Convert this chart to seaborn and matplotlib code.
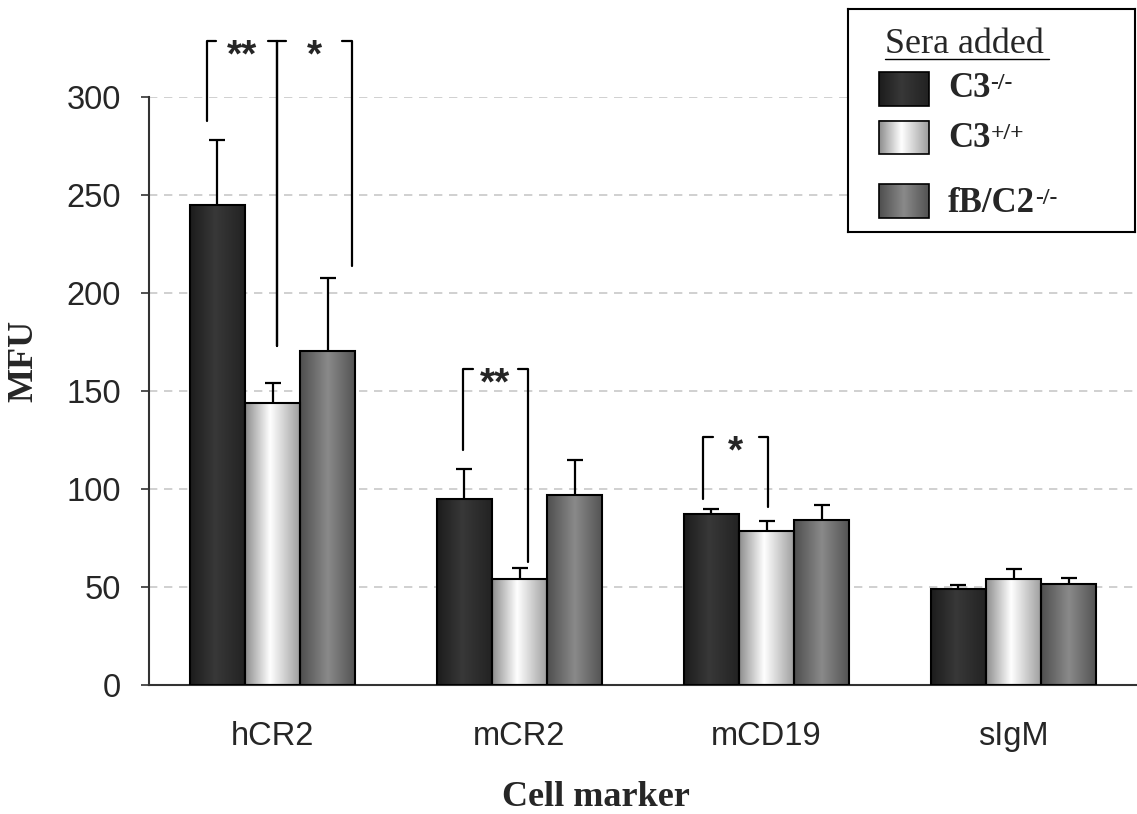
import numpy as np
import pandas as pd
import matplotlib
matplotlib.use('Agg')
import matplotlib.pyplot as plt
import seaborn as sns
from matplotlib.colors import LinearSegmentedColormap

# Data
markers = ['hCR2', 'mCR2', 'mCD19', 'sIgM']
sera = ['C3-/-', 'C3+/+', 'fB/C2-/-']
c3_ko = [245, 95, 87, 49]
c3_wt = [144, 54, 78.5, 54]
fb_c2 = [170.5, 97, 84, 51.5]
c3_ko_err = [33, 15, 3, 2]
c3_wt_err = [10, 5.5, 5, 5]
fb_c2_err = [37, 18, 8, 3]

# significance brackets: group, leg x (offset in group), leg bottoms, top, stars
brk_group = [0, 0, 1, 2]
brk_left = [-0.265, 0.018, -0.228, -0.256]
brk_right = [0.018, 0.321, 0.033, 0.007]
brk_left_bottom = [287.8, 173, 120, 95]
brk_right_bottom = [173, 214, 63, 91]
brk_top = [328.7, 328.7, 161, 126.4]
brk_label = ['**', '*', '**', '*']

df = pd.DataFrame({
    'marker': markers * 3,
    'sera': [s for s in sera for _ in markers],
    'MFU': c3_ko + c3_wt + fb_c2,
    'err': c3_ko_err + c3_wt_err + fb_c2_err,
})

# cylinder-like gradients for each serum
grad_cmaps = [
    LinearSegmentedColormap.from_list('ko', [(0, '#1c1c1c'), (0.45, '#383838'), (1, '#222222')]),
    LinearSegmentedColormap.from_list('wt', [(0, '#8c8c8c'), (0.45, '#ffffff'), (1, '#9c9c9c')]),
    LinearSegmentedColormap.from_list('fb', [(0, '#4e4e4e'), (0.5, '#8a8a8a'), (1, '#525252')]),
]
grad = np.linspace(0, 1, 256)[np.newaxis, :]

sns.set_style('white')
plt.rcParams['font.family'] = ['Liberation Sans', 'DejaVu Sans']

fig = plt.figure(figsize=(11.37, 8.14), dpi=100)
ax = fig.add_axes([149 / 1137, 1 - 685 / 814, 988 / 1137, 588 / 814])

sns.barplot(data=df, x='marker', y='MFU', hue='sera', order=markers, hue_order=sera,
            width=0.67, errorbar=None, palette=['#2a2a2a', '#dddddd', '#6a6a6a'],
            saturation=1, edgecolor='black', linewidth=1.5, legend=False, ax=ax)

# gradient fill + one-sided error bars
bar_groups = list(ax.containers)
for k, cont in enumerate(bar_groups):
    errs = df[df['sera'] == sera[k]]['err'].values
    xs, ys = [], []
    for bar in cont:
        x0, w, h = bar.get_x(), bar.get_width(), bar.get_height()
        ax.imshow(grad, extent=(x0, x0 + w, 0, h), aspect='auto', cmap=grad_cmaps[k],
                  vmin=0, vmax=1, interpolation='bicubic', zorder=2)
        bar.set_facecolor('none')
        bar.set_zorder(3)
        xs.append(x0 + w / 2)
        ys.append(h)
    eb = ax.errorbar(xs, ys, yerr=[np.zeros(len(errs)), errs], fmt='none', ecolor='black',
                     elinewidth=1.6, capsize=5.8, capthick=1.6, zorder=4)
    eb[1][0].set_visible(False)

# brackets
for g, xl, xr, bl, br, top, lab in zip(brk_group, brk_left, brk_right, brk_left_bottom,
                                         brk_right_bottom, brk_top, brk_label):
    ax.plot([g + xl, g + xl, g + xl + 0.038], [bl, top, top], color='black', lw=1.6,
            clip_on=False, zorder=5)
    ax.plot([g + xr - 0.038, g + xr, g + xr], [top, top, br], color='black', lw=1.6,
            clip_on=False, zorder=5)
    ax.text(g + (xl + xr) / 2, top - 13, lab, ha='center', va='baseline', fontsize=28,
            fontweight='bold', clip_on=False, zorder=5)

ax.set_xlim(-0.5, 3.5)
ax.set_ylim(0, 300)
ax.set_yticks(range(0, 301, 50))
ax.yaxis.grid(True, linestyle=(0, (5, 4)), color='#c8c8c8', lw=1.2)
ax.set_axisbelow(True)
for s in ['top', 'right']:
    ax.spines[s].set_visible(False)
for s in ['left', 'bottom']:
    ax.spines[s].set_color('#333333')
    ax.spines[s].set_linewidth(1.5)

ax.set_xticks(np.arange(-0.5, 3.6, 1), minor=True)
ax.tick_params(axis='x', which='major', length=0, pad=26, labelsize=23.5)
ax.tick_params(axis='x', which='minor', length=6, width=1.2, color='#333333', direction='out')
ax.tick_params(axis='y', length=6, width=1.2, color='#333333', direction='out', pad=14,
               labelsize=23.5, left=True)

ax.set_xlabel('Cell marker', fontfamily='Liberation Serif', fontweight='bold', fontsize=26)
ax.xaxis.set_label_coords(0.452, -0.164)
ax.set_ylabel('MFU', fontfamily='Liberation Serif', fontweight='bold', fontsize=26)
ax.yaxis.set_label_coords(-0.110, 0.551)

# legend box
lax = fig.add_axes([848 / 1137, 1 - 232 / 814, 287 / 1137, 223 / 814])
lax.set_xlim(0, 1)
lax.set_ylim(0, 1)
lax.set_xticks([])
lax.set_yticks([])
for s in lax.spines.values():
    s.set_visible(True)
    s.set_color('black')
    s.set_linewidth(1.5)

lax.text(0.129, 0.803, 'Sera added', fontfamily='Liberation Serif', fontsize=26, va='baseline')
lax.plot([0.129, 0.700], [0.776, 0.776], color='black', lw=1)

patch_y = [(0.565, 0.717), (0.350, 0.498), (0.063, 0.215)]
label_y = [0.605, 0.381, 0.090]
main_lab = ['C3', 'C3', 'fB/C2']
sup_lab = ['-/-', '+/+', '-/-']
for k in range(3):
    y0, y1 = patch_y[k]
    lax.imshow(grad, extent=(0.108, 0.282, y0, y1), aspect='auto', cmap=grad_cmaps[k],
               vmin=0, vmax=1, interpolation='bicubic', zorder=2)
    lax.add_patch(plt.Rectangle((0.108, y0), 0.174, y1 - y0, fill=False, edgecolor='black',
                                lw=1.2, zorder=3))
    t = lax.text(0.348, label_y[k], main_lab[k], fontfamily='Liberation Serif',
                 fontweight='bold', fontsize=25, va='baseline')
    lax.annotate(sup_lab[k], xy=(1.0, 0.97), xycoords=t, va='top', ha='left',
                 fontfamily='Liberation Serif', fontweight='bold', fontsize=17)
lax.set_xlim(0, 1)
lax.set_ylim(0, 1)

fig.savefig('out.png', dpi=100)
